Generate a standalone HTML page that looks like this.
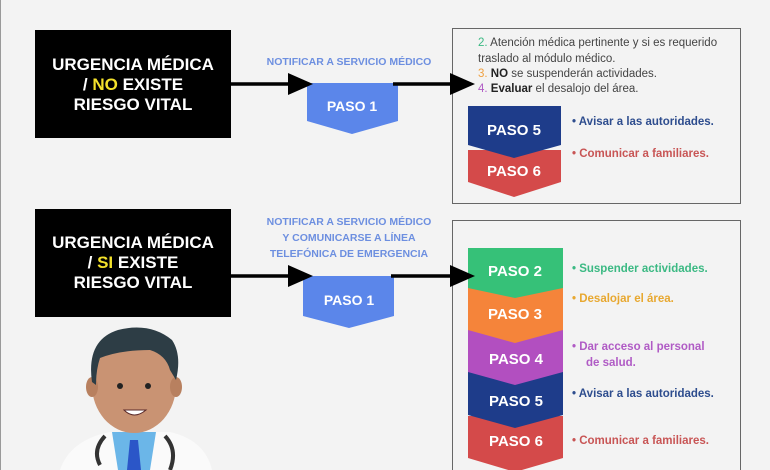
<!DOCTYPE html>
<html><head><meta charset="utf-8"><style>
html,body{margin:0;padding:0;background:#f3f3f3;}
svg{display:block;font-family:"Liberation Sans",sans-serif;}
.w{fill:#fff;font-weight:bold;}
</style></head><body>
<svg width="770" height="470" viewBox="0 0 770 470">
<rect x="0" y="0" width="770" height="470" fill="#f3f3f3"/>
<line x1="0.5" y1="0" x2="0.5" y2="470" stroke="#999"/>
<!-- right box 1 -->
<rect x="452.5" y="28.5" width="288" height="175" fill="#f3f3f3" stroke="#666"/>
<text font-size="11.5" fill="#444"><tspan x="478" y="46"><tspan fill="#3bb983">2.</tspan> Atención médica pertinente y si es requerido</tspan><tspan x="478" y="62">traslado al módulo médico.</tspan><tspan x="478" y="77"><tspan fill="#f0a040">3.</tspan> <tspan font-weight="bold" fill="#222">NO</tspan> se suspenderán actividades.</tspan><tspan x="478" y="92"><tspan fill="#b05bc5">4.</tspan> <tspan font-weight="bold" fill="#222">Evaluar</tspan> el desalojo del área.</tspan></text>
<path d="M468,150 H561 V182 L514,197 L468,182Z" fill="#d44a4a"/>
<path d="M468,106 H561 V145 L514,158 L468,145Z" fill="#1e3c8a"/>
<text x="514" y="135" class="w" font-size="15" text-anchor="middle">PASO 5</text>
<text x="514" y="176" class="w" font-size="15" text-anchor="middle">PASO 6</text>
<text x="572" y="125" font-size="11.5" font-weight="bold" fill="#2e4d8e">•  Avisar a las autoridades.</text>
<text x="572" y="157" font-size="11.5" font-weight="bold" fill="#c85555">•  Comunicar a familiares.</text>
<!-- right box 2 -->
<rect x="452.5" y="220.5" width="288" height="260" fill="#f3f3f3" stroke="#666"/>
<path d="M468,416 H563 V458 L515,472 L468,458Z" fill="#d44a4a"/>
<path d="M468,372 H563 V415 L515,428 L468,415Z" fill="#1e3c8a"/>
<path d="M468,330 H563 V372 L515,385 L468,372Z" fill="#b24fc0"/>
<path d="M468,288 H563 V330 L515,343 L468,330Z" fill="#f5843a"/>
<path d="M468,248 H563 V288 L515,298 L468,288Z" fill="#36c178"/>
<text class="w" font-size="15" text-anchor="middle"><tspan x="515" y="276">PASO 2</tspan><tspan x="515" y="319">PASO 3</tspan><tspan x="516" y="364">PASO 4</tspan><tspan x="516" y="406">PASO 5</tspan><tspan x="516" y="446">PASO 6</tspan></text>
<g font-size="11.5" font-weight="bold">
<text x="572" y="272" fill="#3bb983">•  Suspender actividades.</text>
<text x="572" y="302" fill="#e8a830">•   Desalojar el área.</text>
<text x="572" y="350" fill="#b05bc5">•  Dar acceso al personal</text>
<text x="586" y="366" fill="#b05bc5">de salud.</text>
<text x="572" y="397" fill="#2e4d8e">•  Avisar a las autoridades.</text>
<text x="572" y="444" fill="#c85555">•  Comunicar a familiares.</text>
</g>
<!-- black boxes -->
<rect x="35" y="30" width="196" height="108" fill="#000"/>
<text class="w" font-size="17" text-anchor="middle"><tspan x="133" y="70">URGENCIA MÉDICA</tspan><tspan x="133" y="90">/ <tspan fill="#f3e12b">NO</tspan> EXISTE</tspan><tspan x="133" y="110">RIESGO VITAL</tspan></text>
<rect x="35" y="209" width="196" height="108" fill="#000"/>
<text class="w" font-size="17" text-anchor="middle"><tspan x="133" y="248">URGENCIA MÉDICA</tspan><tspan x="133" y="268">/ <tspan fill="#f3e12b">SI</tspan> EXISTE</tspan><tspan x="133" y="288">RIESGO VITAL</tspan></text>
<!-- labels -->
<text x="349" y="65" font-size="10.5" font-weight="bold" fill="#6d8fe0" text-anchor="middle">NOTIFICAR A SERVICIO MÉDICO</text>
<text font-size="10.5" font-weight="bold" fill="#6d8fe0" text-anchor="middle"><tspan x="349" y="225">NOTIFICAR A SERVICIO MÉDICO</tspan><tspan x="349" y="241">Y COMUNICARSE A LÍNEA</tspan><tspan x="349" y="257">TELEFÓNICA DE EMERGENCIA</tspan></text>
<!-- paso 1 -->
<path d="M307,83 H398 V121 L352,134 L307,121Z" fill="#5b86ea"/>
<text x="352" y="111" class="w" font-size="14" text-anchor="middle">PASO 1</text>
<path d="M303,276 H394 V316 L349,328 L303,316Z" fill="#5b86ea"/>
<text x="349" y="305" class="w" font-size="14" text-anchor="middle">PASO 1</text>
<!-- arrows -->
<g stroke="#000" stroke-width="3.5">
<line x1="231" y1="84" x2="292" y2="84"/><line x1="393" y1="84" x2="455" y2="84"/>
<line x1="231" y1="276" x2="292" y2="276"/><line x1="391" y1="276" x2="455" y2="276"/>
</g>
<path d="M288,73 L313,84 L288,95Z"/><path d="M450,73 L475,84 L450,95Z"/>
<path d="M288,265 L313,276 L288,287Z"/><path d="M450,265 L475,276 L450,287Z"/>
<!-- doctor -->
<path d="M60,470 Q70,440 110,432 H170 Q205,440 212,470Z" fill="#fafafa"/>
<path d="M112,432 H156 L150,470 H118Z" fill="#6bb6e8"/>
<path d="M130,440 L138,440 L141,470 H127Z" fill="#2b56c8"/>
<path d="M105,436 Q92,450 100,465 M165,436 Q178,450 170,470" stroke="#333" stroke-width="4" fill="none"/>
<ellipse cx="134" cy="385" rx="42" ry="48" fill="#c99373"/>
<ellipse cx="92" cy="387" rx="6" ry="10" fill="#b8805f"/>
<ellipse cx="176" cy="387" rx="6" ry="10" fill="#b8805f"/>
<path d="M92,382 Q86,340 118,330 Q150,322 172,340 Q182,355 176,380 L170,370 Q166,355 150,350 Q120,350 100,358 Q96,370 96,385Z" fill="#2d3d45"/>
<circle cx="120" cy="386" r="3" fill="#222"/><circle cx="148" cy="386" r="3" fill="#222"/>
<path d="M124,410 Q134,420 146,410Z" fill="#fff" stroke="#5a2a2a"/>
</svg>
</body></html>
